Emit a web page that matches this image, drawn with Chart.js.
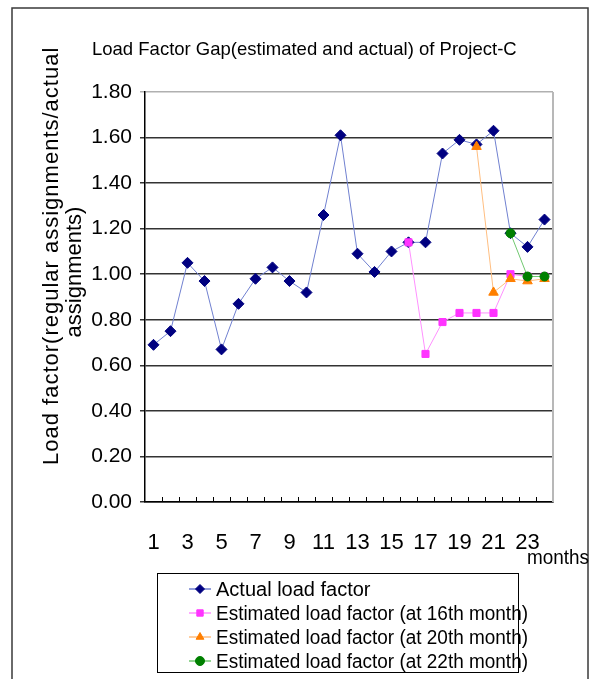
<!DOCTYPE html>
<html>
<head>
<meta charset="utf-8">
<title>Load Factor Gap - Project-C</title>
<script src="https://cdn.jsdelivr.net/npm/chart.js@4.4.1/dist/chart.umd.min.js"></script>
<style>
  html, body { margin: 0; padding: 0; background: #fff; }
  #wrap { position: relative; width: 589px; height: 679px; }
</style>
</head>
<body>
<div id="wrap"><canvas id="myChart" width="589" height="679"></canvas></div>
<script>
// months on the x axis
const months = [1, 2, 3, 4, 5, 6, 7, 8, 9, 10, 11, 12, 13, 14, 15, 16, 17, 18, 19, 20, 21, 22, 23, 24];

// load factor = regular assignments / actual assignments
const actualLoad = [0.69, 0.75, 1.05, 0.97, 0.67, 0.87, 0.98, 1.03, 0.97, 0.92, 1.26, 1.61,
                    1.09, 1.01, 1.10, 1.14, 1.14, 1.53, 1.59, 1.57, 1.63, 1.18, 1.12, 1.24];
const estAt16 = [null, null, null, null, null, null, null, null, null, null, null, null,
                 null, null, null, 1.14, 0.65, 0.79, 0.83, 0.83, 0.83, 1.00, 0.99, 0.99];
const estAt20 = [null, null, null, null, null, null, null, null, null, null, null, null,
                 null, null, null, null, null, null, null, 1.56, 0.92, 0.98, 0.97, 0.98];
const estAt22 = [null, null, null, null, null, null, null, null, null, null, null, null,
                 null, null, null, null, null, null, null, null, null, 1.18, 0.99, 0.99];

const yTicks = [0, 0.2, 0.4, 0.6, 0.8, 1.0, 1.2, 1.4, 1.6, 1.8];

const seriesNames = [
  'Actual load factor',
  'Estimated load factor (at 16th month)',
  'Estimated load factor (at 20th month)',
  'Estimated load factor (at 22th month)'
];

const chartTitle = 'Load Factor Gap(estimated and actual) of Project-C';
const yTitle = ['Load factor(regular assignments/actual', 'assignments)'];
const xTitle = 'months';

const FONT = '"Liberation Sans", Arial, sans-serif';

function series(label, data, line, mark, style, r, order) {
  return {
    label: label,
    data: data,
    borderColor: line,
    borderWidth: 1,
    backgroundColor: mark,
    pointBackgroundColor: mark,
    pointBorderColor: mark,
    pointBorderWidth: 1,
    pointStyle: style,
    pointRadius: r,
    pointHoverRadius: r,
    spanGaps: false,
    tension: 0,
    order: order
  };
}

// frame, title, axis titles, inner ticks and the boxed legend
const decorations = {
  id: 'decorations',
  afterDraw(chart) {
    const ctx = chart.ctx;
    const area = chart.chartArea;
    const xs = chart.scales.x;

    ctx.save();

    // outer frame
    ctx.strokeStyle = '#3a3a3a';
    ctx.lineWidth = 1.5;
    ctx.strokeRect(12, 8, 576, 720);

    // right edge of plot
    ctx.strokeStyle = '#b8b8b8';
    ctx.lineWidth = 2;
    ctx.beginPath();
    ctx.moveTo(area.right, area.top);
    ctx.lineTo(area.right, area.bottom);
    ctx.stroke();

    // small inner tick marks between months
    ctx.strokeStyle = '#000';
    ctx.lineWidth = 1;
    for (let i = 1; i < months.length; i++) {
      const x = Math.round((xs.getPixelForValue(i - 1) + xs.getPixelForValue(i)) / 2) + 0.5;
      ctx.beginPath();
      ctx.moveTo(x, area.bottom - 5);
      ctx.lineTo(x, area.bottom);
      ctx.stroke();
    }

    ctx.fillStyle = '#000';

    // chart title
    ctx.font = '18.5px ' + FONT;
    ctx.textAlign = 'left';
    ctx.textBaseline = 'alphabetic';
    ctx.fillText(chartTitle, 92, 55);

    // y axis title, two lines
    ctx.font = '22px ' + FONT;
    ctx.save();
    ctx.translate(58, 465);
    ctx.rotate(-Math.PI / 2);
    ctx.letterSpacing = '1px';
    ctx.textAlign = 'left';
    ctx.fillText(yTitle[0], 0, 0);
    ctx.restore();
    ctx.save();
    ctx.translate(81, 272);
    ctx.rotate(-Math.PI / 2);
    ctx.textAlign = 'center';
    ctx.fillText(yTitle[1], 0, 0);
    ctx.restore();

    // x axis unit
    ctx.font = '20px ' + FONT;
    ctx.textAlign = 'left';
    ctx.fillText(xTitle, 527, 564, 62);

    // legend
    const lx = 157, ly = 573, lw = 361, lh = 99;
    ctx.strokeStyle = '#000';
    ctx.lineWidth = 1;
    ctx.strokeRect(lx + 0.5, ly + 0.5, lw, lh);

    ctx.font = '20px ' + FONT;
    ctx.textBaseline = 'middle';
    chart.data.datasets.forEach((ds, i) => {
      const y = 589 + i * 24;
      ctx.strokeStyle = ds.borderColor;
      ctx.lineWidth = 1.5;
      ctx.beginPath();
      ctx.moveTo(189, y);
      ctx.lineTo(211, y);
      ctx.stroke();
      if (Chart.helpers && Chart.helpers.drawPoint) {
        ctx.fillStyle = ds.pointBackgroundColor;
        ctx.strokeStyle = ds.pointBorderColor;
        ctx.lineWidth = 1;
        Chart.helpers.drawPoint(ctx, {pointStyle: ds.pointStyle, radius: 4.5, rotation: 0, borderWidth: 1}, 200, y);
      }
      ctx.fillStyle = '#000';
      ctx.fillText(seriesNames[i], 216, y + 1, 312);
    });

    ctx.restore();
  }
};

const ctx = document.getElementById('myChart');

new Chart(ctx, {
  type: 'line',
  data: {
    labels: months,
    datasets: [
      series(seriesNames[0], actualLoad, '#7080d0', '#000080', 'rectRot', 5.5, 4),
      series(seriesNames[1], estAt16, '#ff90ff', '#ff33ff', 'rect', 5, 3),
      series(seriesNames[2], estAt20, '#ffbe80', '#ff7f00', 'triangle', 5.5, 2),
      series(seriesNames[3], estAt22, '#70c870', '#008000', 'circle', 4.5, 1)
    ]
  },
  options: {
    responsive: false,
    animation: false,
    devicePixelRatio: 1,
    layout: {
      padding: { left: 0, top: 92, right: 36, bottom: 117 }
    },
    plugins: {
      legend: { display: false },
      title: { display: false },
      tooltip: { enabled: false }
    },
    scales: {
      x: {
        type: 'category',
        offset: true,
        grid: { display: false },
        border: { display: true, color: '#000', width: 1.5 },
        ticks: {
          autoSkip: false,
          maxRotation: 0,
          minRotation: 0,
          padding: 20,
          color: '#000',
          font: { family: FONT, size: 22 },
          callback: (v, i) => (i % 2 === 0 ? months[i] : '')
        },
        afterFit: (s) => { s.height = 60; }
      },
      y: {
        min: 0,
        max: 1.8,
        afterBuildTicks: (s) => { s.ticks = yTicks.map(v => ({ value: v })); },
        grid: {
          color: (c) => (c.tick && Math.abs(c.tick.value - 1.8) < 1e-6 ? '#b0b0b0' : '#333'),
          lineWidth: 1.5,
          drawTicks: true,
          tickLength: 5
        },
        border: { display: true, color: '#000', width: 1.5 },
        ticks: {
          padding: 8,
          color: '#000',
          font: { family: FONT, size: 21 },
          callback: (v) => Number(v).toFixed(2)
        },
        afterFit: (s) => { s.width = 145; }
      }
    }
  },
  plugins: [decorations]
});
</script>
</body>
</html>
